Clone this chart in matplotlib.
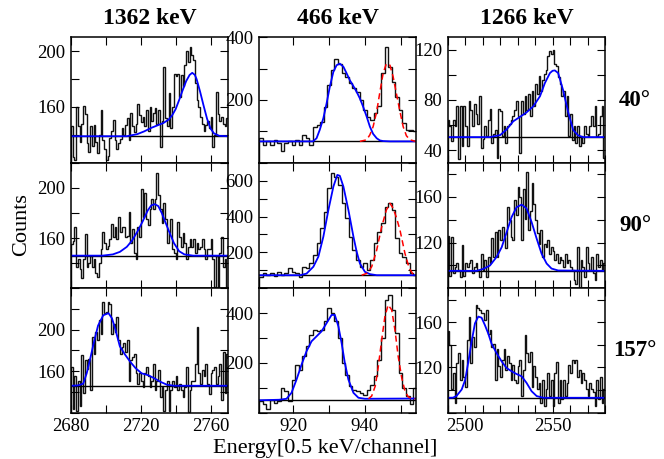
import numpy as np
import matplotlib
matplotlib.use("Agg")
import matplotlib.pyplot as plt

plt.rcParams['font.family'] = ['Liberation Serif', 'DejaVu Serif']

# column titles / row labels
line_titles = ["1362 keV", "466 keV", "1266 keV"]
angle_labels = ["40°", "90°", "157°"]

# first channel of each column, channels are 1 wide
start_1362 = 2680
start_466 = 910.5
start_1266 = 2490

# ---------------- 1362 keV ----------------
counts_1362_40 = [146, 124, 122, 160, 146, 135, 148, 161, 155, 134,
                  128, 146, 132, 147, 135, 127, 140, 158, 136, 130,
                  122, 125, 138, 143, 151, 136, 130, 134, 137, 145,
                  140, 147, 152, 136, 156, 146, 142, 148, 162, 154,
                  149, 153, 146, 158, 143, 160, 150, 156, 159, 148,
                  158, 131, 150, 189, 152, 146, 170, 145, 160, 184,
                  182, 184, 167, 183, 175, 190, 200, 192, 203, 197,
                  194, 177, 165, 160, 153, 148, 143, 147, 150, 145,
                  153, 131, 140, 171, 155, 150, 153, 148, 146, 152]
counts_1362_90 = [155, 158, 169, 137, 143, 135, 128, 143, 163, 137,
                  140, 146, 137, 143, 132, 129, 140, 151, 165, 156,
                  151, 154, 159, 171, 161, 169, 159, 177, 165, 169,
                  169, 161, 162, 181, 156, 167, 148, 143, 169, 161,
                  199, 177, 196, 175, 170, 183, 191, 183, 191, 212,
                  194, 183, 172, 188, 175, 156, 164, 175, 151, 148,
                  143, 173, 161, 153, 164, 156, 143, 153, 159, 153,
                  159, 148, 156, 151, 153, 159, 151, 143, 151, 151,
                  159, 143, 121, 146, 121, 148, 161, 137, 143, 121]
counts_1362_157 = [164, 124, 155, 122, 151, 126, 176, 139, 171, 162,
                   172, 142, 193, 177, 198, 190, 209, 196, 227, 216,
                   217, 227, 225, 196, 206, 198, 212, 190, 177, 183,
                   187, 179, 190, 151, 171, 174, 177, 158, 148, 158,
                   151, 145, 158, 164, 155, 145, 151, 167, 142, 151,
                   161, 135, 145, 122, 142, 151, 122, 142, 151, 145,
                   155, 142, 148, 142, 135, 145, 164, 121, 142, 151,
                   151, 167, 203, 158, 148, 161, 155, 167, 148, 138,
                   158, 161, 164, 148, 155, 167, 132, 179, 139, 177]

fitx_1362_40 = [2680, 2712, 2718, 2722, 2726, 2730, 2733, 2736, 2738, 2740, 2742, 2744,
                2746, 2748, 2749.5, 2751, 2752, 2754, 2756, 2758, 2760, 2762, 2765, 2770]
fity_1362_40 = [139, 139, 140.5, 142.5, 145, 147, 148.5, 151, 154, 158.5, 165, 172,
                178.5, 183, 184.5, 183, 180, 171, 161, 151.5, 144.5, 141, 139.3, 139]
fitx_1362_90 = [2680, 2698, 2704, 2708, 2712, 2715, 2718, 2721, 2724, 2726, 2728,
                2730, 2732, 2734, 2736, 2739, 2742, 2745, 2750, 2770]
fity_1362_90 = [146, 146, 147, 149, 153, 158, 165, 173, 182, 186, 187,
                185.5, 180, 173, 166, 156, 149.5, 147, 146, 146]
fitx_1362_157 = [2680, 2684, 2687, 2689, 2691, 2693, 2695.5, 2698.5, 2701.5, 2703.5, 2705.5,
                 2708, 2711, 2714, 2717, 2720.5, 2724.5, 2728, 2731, 2735, 2739, 2770]
fity_1362_157 = [146, 146.3, 148, 158, 172, 187, 204, 214, 216, 211, 200,
                 184, 176, 169, 163, 158, 156, 153, 150, 147, 146, 146]

# ---------------- 466 keV ----------------
counts_466_40 = [78, 57, 68, 57, 73, 62, 36, 62, 68, 57, 73, 57, 89, 78, 57,
                 115, 121, 131, 179, 248, 295, 332, 316, 285, 274, 253, 237, 226, 200, 168,
                 145, 137, 158, 181, 285, 369, 306, 258, 210, 168, 126, 105, 105, 100]
counts_466_90 = [64, 83, 73, 83, 68, 92, 73, 83, 111, 92, 83, 64, 120, 111, 139,
                 185, 250, 334, 427, 558, 641, 623, 576, 474, 390, 288, 213, 157, 120, 139,
                 102, 157, 250, 315, 362, 455, 474, 436, 278, 194, 176, 139, 83, 73]
counts_466_157 = [47, 33, 13, 53, 40, 47, 100, 87, 47, 133, 193, 173, 227, 267, 313,
                  333, 327, 333, 367, 420, 400, 367, 300, 200, 153, 107, 93, 87, 80, 73,
                  93, 113, 147, 213, 300, 453, 473, 413, 320, 160, 100, 67, 33, 100]

fitx_466_40 = [910.5, 925.5, 926.5, 927.4, 928.4, 929.3, 930.2, 931.2, 932.1, 933, 934,
               934.9, 935.8, 936.8, 937.7, 938.6, 939.5, 940.5, 941.4, 942.3, 943.3,
               944.2, 945.1, 947, 954.2]
fity_466_40 = [68, 68, 78, 105, 142, 189, 242, 290, 311, 316, 306,
               285, 263, 244, 226, 205, 179, 147, 115, 92, 78,
               71, 69, 68, 68]
redx_466_40 = [938.6, 940.5, 941.4, 942.3, 943.3, 944.2, 945.1, 946, 947, 947.9,
               948.8, 949.8, 950.7, 951.6, 952.6, 954.2]
redy_466_40 = [68, 73, 89, 115, 163, 226, 285, 316, 311, 274,
               221, 163, 115, 86, 73, 68]
fitx_466_90 = [910.5, 921.9, 923.7, 925.6, 927, 928.4, 929.8, 931.2, 932.3, 933, 934,
               935.4, 936.8, 937.7, 938.6, 940, 941.4, 943.3, 954.2]
fity_466_90 = [73, 73, 82, 120, 176, 288, 436, 567, 632, 627, 567,
               436, 288, 204, 139, 92, 79, 73, 73]
redx_466_90 = [939.1, 940.5, 941.9, 943.3, 944.7, 946, 947, 947.9, 948.8, 949.8,
               951.2, 952.4, 953.5, 954.2]
redy_466_90 = [73, 83, 120, 213, 343, 436, 474, 446, 395, 325,
               194, 111, 77, 73]
fitx_466_157 = [910.5, 916, 918.1, 919.5, 920.9, 922.3, 923.7, 925.1, 926.5, 927.9, 929.3,
                930.7, 931.6, 932.6, 933.5, 934.4, 935.4, 936.8, 938.2, 940, 954.2]
fity_466_157 = [50, 52, 56, 80, 133, 193, 247, 287, 307, 327, 360,
                393, 393, 347, 280, 200, 133, 80, 60, 56, 57]
redx_466_157 = [941, 941.9, 942.9, 943.7, 944.7, 945.6, 946.5, 947.5, 948.4, 949.3,
                950.3, 951.2, 952.1, 953, 954.2]
redy_466_157 = [56, 67, 107, 180, 293, 387, 433, 413, 333, 227,
                140, 87, 64, 57, 56]

# ---------------- 1266 keV ----------------
counts_1266_40 = [64, 59, 47, 64, 59, 75, 33, 75, 43, 75,
                  59, 43, 79, 72, 59, 77, 69, 61, 83, 42,
                  49, 59, 51, 64, 73, 46, 53, 56, 34, 73,
                  71, 51, 59, 46, 59, 61, 64, 67, 72, 79,
                  67, 38, 79, 69, 83, 72, 85, 67, 87, 75,
                  93, 85, 99, 87, 96, 101, 104, 115, 119, 117,
                  120, 109, 107, 98, 93, 83, 87, 67, 83, 51,
                  69, 48, 59, 46, 59, 43, 51, 46, 59, 53,
                  51, 59, 67, 59, 75, 51, 53, 67, 75, 34]
counts_1266_90 = [126, 91, 125, 93, 99, 102, 96, 90, 118, 91,
                  102, 99, 102, 105, 93, 99, 102, 96, 90, 110,
                  96, 105, 90, 107, 102, 124, 107, 129, 107, 131,
                  122, 134, 125, 115, 151, 140, 125, 122, 157, 144,
                  169, 160, 122, 167, 141, 182, 131, 148, 172, 154,
                  140, 128, 119, 131, 107, 119, 116, 122, 110, 116,
                  113, 105, 110, 102, 107, 105, 99, 110, 102, 105,
                  99, 96, 87, 84, 116, 78, 105, 99, 90, 116,
                  102, 96, 107, 93, 87, 110, 99, 105, 96, 102]
counts_1266_157 = [152, 140, 101, 115, 89, 124, 133, 109, 127, 112,
                   103, 144, 165, 124, 147, 138, 175, 173, 171, 168,
                   168, 162, 171, 150, 153, 138, 141, 109, 136, 121,
                   112, 127, 136, 118, 130, 124, 109, 122, 109, 106,
                   121, 127, 95, 118, 149, 133, 125, 134, 103, 121,
                   112, 101, 106, 89, 109, 86, 101, 115, 95, 109,
                   86, 115, 125, 89, 109, 92, 109, 95, 106, 122,
                   115, 127, 124, 127, 112, 118, 106, 115, 109, 101,
                   95, 106, 101, 98, 86, 109, 92, 112, 89, 101]

fitx_1266_40 = [2490, 2514, 2520, 2523.7, 2527.5, 2531.3, 2535, 2539, 2542.8, 2545.6,
                2548.5, 2550, 2551.3, 2553.2, 2556, 2559, 2561.8, 2564.7, 2567.5, 2580]
fity_1266_40 = [50.4, 50.4, 52, 56.5, 63, 66.5, 70, 75, 83, 93.5,
                101.5, 103.3, 103.6, 101.5, 88, 70, 56, 51.7, 50.4, 50.4]
fitx_1266_90 = [2490, 2506.6, 2510.4, 2514.2, 2518, 2520.9, 2523.7, 2526.6, 2529.4,
                2532.3, 2535.1, 2538, 2540.9, 2543.7, 2546.6, 2549.4, 2553.2, 2580]
fity_1266_90 = [95.3, 95.3, 97, 100, 107.5, 116, 129, 142.5, 151,
                153.3, 150, 138, 123.5, 110.4, 101.7, 97.3, 95.6, 95.3]
fitx_1266_157 = [2490, 2493, 2495, 2498, 2500, 2501.8, 2503.7, 2505.6, 2507.5, 2509.4,
                 2511.3, 2513.2, 2515.1, 2518, 2520.9, 2523.7, 2526.6, 2529.4, 2532.3,
                 2535.1, 2538, 2540.9, 2544.7, 2580]
fity_1266_157 = [93.2, 93.3, 94.7, 100.5, 109, 125, 143, 159, 165, 164,
                 157.4, 150, 141, 132.6, 125.3, 119.5, 116.6, 114.2, 112.2,
                 106.4, 99, 94.7, 93.2, 93.2]

# flat background levels (rows 40, 90, 157)
bg_1362 = [139, 146, 146]
bg_466 = [68, 73, 53]
bg_1266 = [50.4, 95.3, 93.2]

# axis ranges and ticks
xlims = [(2680, 2770), (910.5, 954.2), (2490, 2580)]
xmajor = [[2680, 2720, 2760], [920, 940], [2500, 2550]]
xminor_step = [20, 10, 10]
ylims = [[(120, 210), (120, 220), (120, 240)],
         [(0, 400), (0, 700), (0, 500)],
         [(30, 130), (80, 190), (80, 190)]]
ymajor = [[[160, 200], [160, 200], [160, 200]],
          [[200, 400], [200, 400, 600], [200, 400]],
          [[40, 80, 120], [120, 160], [120, 160]]]
yminor_step = [20, 100, 20]

fig = plt.figure(figsize=(6.64, 4.59), dpi=100)
W, H = 664.0, 459.0
col_left = [71, 259.3, 447.7]
col_right = [228, 415.7, 605]
row_top = [37.3, 162.7, 288.3]
row_bot = [162.7, 288.3, 412.7]

counts = [[counts_1362_40, counts_1362_90, counts_1362_157],
          [counts_466_40, counts_466_90, counts_466_157],
          [counts_1266_40, counts_1266_90, counts_1266_157]]
fits = [[(fitx_1362_40, fity_1362_40), (fitx_1362_90, fity_1362_90), (fitx_1362_157, fity_1362_157)],
        [(fitx_466_40, fity_466_40), (fitx_466_90, fity_466_90), (fitx_466_157, fity_466_157)],
        [(fitx_1266_40, fity_1266_40), (fitx_1266_90, fity_1266_90), (fitx_1266_157, fity_1266_157)]]
reds = [(redx_466_40, redy_466_40), (redx_466_90, redy_466_90), (redx_466_157, redy_466_157)]
starts = [start_1362, start_466, start_1266]
bgs = [bg_1362, bg_466, bg_1266]

for c in range(3):
    for r in range(3):
        ax = fig.add_axes([col_left[c] / W, 1 - row_bot[r] / H,
                           (col_right[c] - col_left[c]) / W, (row_bot[r] - row_top[r]) / H])
        vals = counts[c][r]
        edges = starts[c] + np.arange(len(vals) + 1)
        ax.stairs(vals, edges, color='#111111', lw=1.0)
        ax.axhline(bgs[c][r], color='black', lw=1.0)
        fx, fy = fits[c][r]
        ax.plot(fx, fy, color='#0000ff', lw=1.3)
        if c == 1:
            rx, ry = reds[r]
            ax.plot(rx, ry, color='red', lw=1.1, ls=(0, (4, 2.5)))
        ax.set_xticks(xmajor[c])
        ax.set_xticks(np.arange(xmajor[c][0] - 4 * xminor_step[c], xlims[c][1] + 1, xminor_step[c]), minor=True)
        ax.set_yticks(ymajor[c][r])
        ax.set_yticks(np.arange(0, 800, yminor_step[c]), minor=True)
        ax.set_xlim(*xlims[c])
        ax.set_ylim(*ylims[c][r])
        ax.tick_params(which='both', direction='in', top=True, right=True,
                       length=6, width=0.8, labelsize=13.5, pad=4)
        if r < 2:
            ax.tick_params(labelbottom=False)
        for s in ax.spines.values():
            s.set_linewidth(1.1)
        if r == 0:
            fig.text((col_left[c] + col_right[c]) / 2 / W, 1 - 18 / H, line_titles[c],
                     fontsize=17, fontweight='bold', ha='center', va='center')
        if c == 2:
            fig.text(635 / W, 1 - (row_top[r] + row_bot[r]) / 2 / H, angle_labels[r],
                     fontsize=16.5, fontweight='bold', ha='center', va='center')

fig.text(22 / W, 0.51, "Counts", rotation=90, fontsize=16, ha='center', va='center')
fig.text(325 / W, 1 - 449 / H, "Energy[0.5 keV/channel]", fontsize=16, ha='center', va='center')

fig.savefig("out.png", dpi=100)
